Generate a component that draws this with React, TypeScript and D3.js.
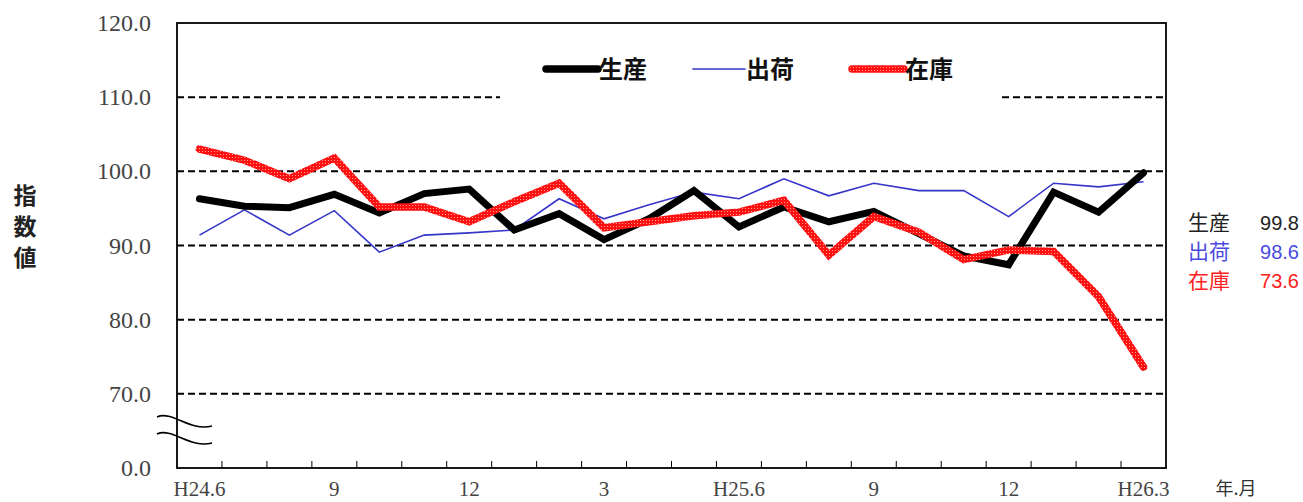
import React, { useEffect, useRef } from 'react';
import * as d3 from 'd3';

// months H24.6 .. H26.3
const months = d3.range(22);
const xLabels = ['H24.6', '', '', '9', '', '', '12', '', '', '3', '', '', 'H25.6', '', '', '9', '', '', '12', '', '', 'H26.3'];

const production = [96.3, 95.3, 95.1, 96.9, 94.4, 97.0, 97.6, 92.1, 94.3, 90.8, 93.6, 97.4, 92.5, 95.2, 93.2, 94.6, 91.6, 88.6, 87.4, 97.2, 94.5, 99.8];
const shipment = [91.4, 94.8, 91.4, 94.7, 89.1, 91.4, 91.7, 92.1, 96.3, 93.6, 95.5, 97.2, 96.3, 99.0, 96.7, 98.4, 97.4, 97.4, 93.9, 98.4, 97.9, 98.6];
const inventory = [103.0, 101.5, 99.0, 101.8, 95.2, 95.2, 93.2, 95.9, 98.4, 92.4, 93.2, 94.0, 94.5, 96.1, 88.7, 93.9, 91.8, 88.1, 89.4, 89.2, 83.1, 73.6];

// 60 on the scale stands for the broken "0.0" tick
const yTicks = [60, 70, 80, 90, 100, 110, 120];

const seriesNames = ['生産', '出荷', '在庫'];
const latest = ['99.8', '98.6', '73.6'];

const App: React.FC = () => {
  const svgRef = useRef<SVGSVGElement | null>(null);

  useEffect(() => {
    const svg = d3.select(svgRef.current);
    svg.selectAll('*').remove();

    const left = 177, right = 1166, top = 23, bottom = 468;
    const x = d3.scaleBand<number>().domain(months).range([left, right]).padding(0);
    const cx = (i: number) => (x(i) ?? 0) + x.bandwidth() / 2;
    const y = d3.scaleLinear().domain([60, 120]).range([bottom, top]);

    const defs = svg.append('defs');
    const pat = defs.append('pattern').attr('id', 'dots').attr('patternUnits', 'userSpaceOnUse').attr('width', 3).attr('height', 3);
    pat.append('rect').attr('width', 3).attr('height', 3).attr('fill', '#ff1010');
    pat.append('rect').attr('x', 1).attr('y', 1).attr('width', 1).attr('height', 1).attr('fill', '#ff9a9a');

    svg.append('rect').attr('width', 1303).attr('height', 502).attr('fill', '#fff');

    // grid
    svg.selectAll('.grid')
      .data(yTicks.filter((t) => t > 60 && t < 120))
      .enter()
      .append('line')
      .attr('x1', left).attr('x2', right)
      .attr('y1', (d) => y(d)).attr('y2', (d) => y(d))
      .attr('stroke', '#000').attr('stroke-width', 2).attr('stroke-dasharray', '7 4');

    // legend box covering the 110 line
    svg.append('rect').attr('x', 500).attr('y', 45).attr('width', 498).attr('height', 58).attr('fill', '#fff');

    // frame
    svg.append('rect').attr('x', left).attr('y', top).attr('width', right - left).attr('height', bottom - top)
      .attr('fill', 'none').attr('stroke', '#000').attr('stroke-width', 1.8);

    // x ticks at band edges, pointing inward
    svg.selectAll('.xtick')
      .data(months.slice(1))
      .enter()
      .append('line')
      .attr('x1', (d) => x(d) ?? 0).attr('x2', (d) => x(d) ?? 0)
      .attr('y1', bottom).attr('y2', bottom - 7)
      .attr('stroke', '#000').attr('stroke-width', 1);

    // y tick labels
    svg.selectAll('.ylab')
      .data(yTicks)
      .enter()
      .append('text')
      .attr('x', 151).attr('y', (d) => y(d) + 8)
      .attr('text-anchor', 'end')
      .style('font-family', '"Liberation Serif", serif').style('font-size', '24px').attr('fill', '#444')
      .text((d) => (d === 60 ? '0.0' : d.toFixed(1)));

    // x labels
    svg.selectAll('.xlab')
      .data(months.filter((i) => xLabels[i] !== ''))
      .enter()
      .append('text')
      .attr('x', (d) => cx(d)).attr('y', 496)
      .attr('text-anchor', 'middle')
      .style('font-family', '"Liberation Serif", serif').style('font-size', '21px').attr('fill', '#444')
      .text((d) => xLabels[d]);
    svg.append('text').attr('x', 1236).attr('y', 495).attr('text-anchor', 'middle')
      .style('font-family', '"Noto Sans CJK JP", sans-serif').style('font-size', '18px').attr('fill', '#333').text('年.月');

    // axis break
    [0, 17].forEach((dy) => {
      svg.append('path')
        .attr('d', `M157,${417 + dy} C172,${410 + dy} 190,${432 + dy} 212,${426 + dy}`)
        .attr('fill', 'none').attr('stroke', '#000').attr('stroke-width', 1.5);
    });

    // y title
    ['指', '数', '値'].forEach((c, i) => {
      svg.append('text').attr('x', 25).attr('y', 204 + i * 31).attr('text-anchor', 'middle')
        .style('font-family', '"Noto Sans CJK JP", sans-serif').style('font-weight', 'bold').style('font-size', '23px')
        .attr('fill', '#222').text(c);
    });

    const line = d3.line<number>().x((_, i) => cx(i)).y((d) => y(d));

    svg.append('path').datum(shipment).attr('d', line).attr('fill', 'none')
      .attr('stroke', '#3535c8').attr('stroke-width', 1.6);
    svg.append('path').datum(production).attr('d', line).attr('fill', 'none')
      .attr('stroke', '#000').attr('stroke-width', 7).attr('stroke-linejoin', 'miter').attr('stroke-linecap', 'round');
    svg.append('path').datum(inventory).attr('d', line).attr('fill', 'none')
      .attr('stroke', 'url(#dots)').attr('stroke-width', 7.5).attr('stroke-linejoin', 'miter').attr('stroke-linecap', 'round');

    // legend
    const legend = [
      { x: 546, stroke: '#000', w: 7.5 },
      { x: 693, stroke: '#3535c8', w: 1.6 },
      { x: 852, stroke: 'url(#dots)', w: 7.5 },
    ];
    legend.forEach((l, i) => {
      svg.append('line').attr('x1', l.x).attr('x2', l.x + 52).attr('y1', 69).attr('y2', 69)
        .attr('stroke', l.stroke).attr('stroke-width', l.w).attr('stroke-linecap', 'round');
      svg.append('text').attr('x', l.x + 53).attr('y', 78)
        .style('font-family', '"Noto Sans CJK JP", sans-serif').style('font-weight', 'bold').style('font-size', '24px')
        .attr('fill', '#111').text(seriesNames[i]);
    });

    // latest values at the right
    const colors = ['#222', '#4a4ae0', '#ff2020'];
    seriesNames.forEach((n, i) => {
      svg.append('text').attr('x', 1188).attr('y', 230 + i * 29)
        .style('font-family', '"Noto Sans CJK JP", sans-serif').style('font-size', '21px')
        .attr('fill', colors[i]).text(n);
      svg.append('text').attr('x', 1299).attr('y', 230 + i * 29).attr('text-anchor', 'end')
        .style('font-family', '"Liberation Sans", sans-serif').style('font-size', '20px')
        .attr('fill', colors[i]).text(latest[i]);
    });
  }, []);

  return <svg ref={svgRef} width={1303} height={502} style={{ position: 'absolute', left: 0, top: 0 }} />;
};

export default App;
